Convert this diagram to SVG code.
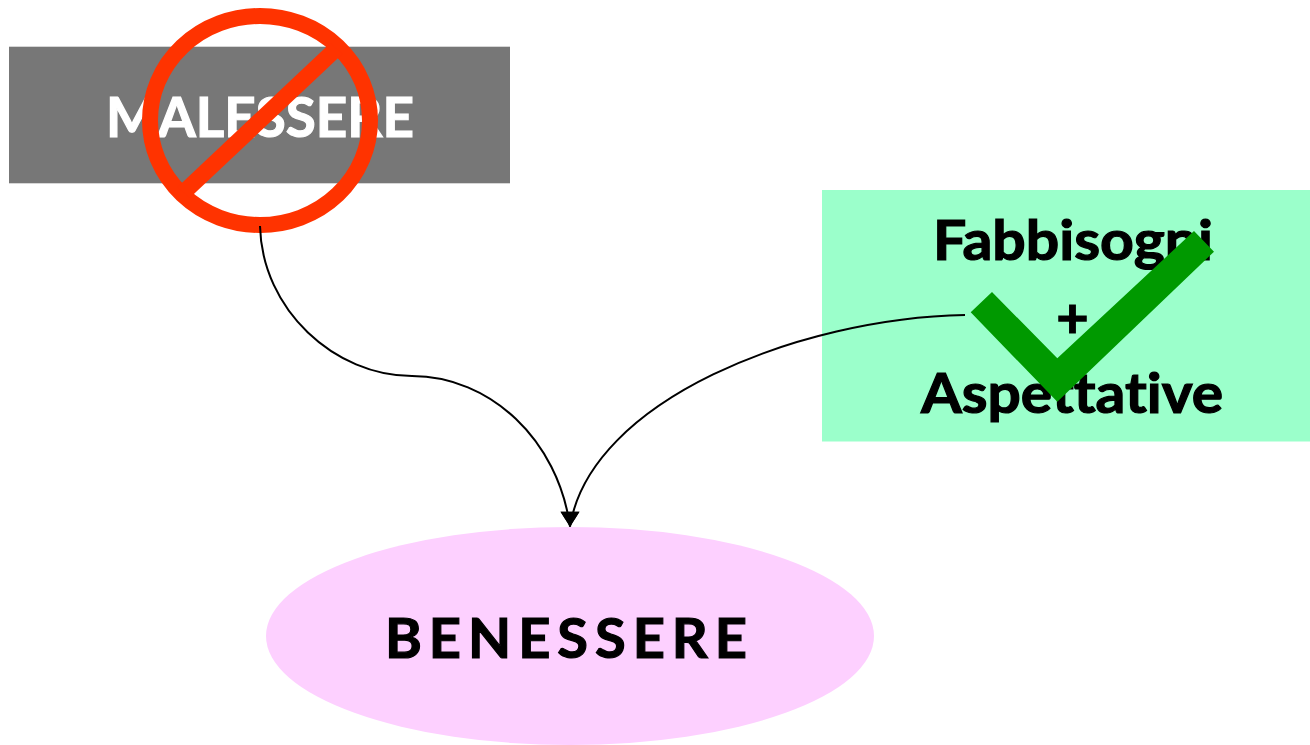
<svg xmlns="http://www.w3.org/2000/svg" width="1310" height="745" viewBox="0 0 1310 745">
<defs>
<style>
text{font-family:"Lato","Open Sans","Liberation Sans",sans-serif;font-weight:700;font-size:56px;text-anchor:middle;font-variant-ligatures:none;stroke-width:1.2px;paint-order:stroke}
.c{fill:none;stroke:#000;stroke-width:2}
</style>
<marker id="a" markerUnits="userSpaceOnUse" markerWidth="22" markerHeight="22" refX="15" refY="10" orient="90" overflow="visible"><path d="M0 0.5L15 10L0 19.5Z" fill="#000"/></marker>
</defs>
<rect width="1310" height="745" fill="#fff"/>
<g id="malessere">
<rect x="9" y="46.7" width="501" height="136.6" fill="#777"/>
<text x="260" y="136.5" fill="#fff" stroke="#fff" textLength="308" lengthAdjust="spacingAndGlyphs">MALESSERE</text>
<ellipse cx="260" cy="120.5" rx="110" ry="104.5" fill="none" stroke="#ff3300" stroke-width="16"/>
<polygon points="330.4,42.9 342.4,53.9 189.6,198.1 177.6,187.1" fill="#ff3300"/>
</g>
<g id="fabbisogni">
<rect x="822" y="190" width="488" height="251.5" fill="#9bffcb"/>
<text x="1073" y="260" fill="#000" stroke="#000" textLength="280" lengthAdjust="spacingAndGlyphs">Fabbisogni</text>
<text x="1072.5" y="338" fill="#000" stroke="#000">+</text>
<text x="1072" y="413" fill="#000" stroke="#000" textLength="302" lengthAdjust="spacingAndGlyphs">Aspettative</text>
<polygon points="992,292 970.7,312.3 1057.3,401.7 1214,251.7 1194,231 1057.3,358.3" fill="#009900"/>
</g>
<g id="benessere">
<ellipse cx="570" cy="636" rx="304" ry="109" fill="#fdd0ff"/>
<text x="566" y="658" fill="#000" stroke="#000" textLength="362" lengthAdjust="spacing">BENESSERE</text>
</g>
<g id="connectors">
<path class="c" marker-end="url(#a)" d="M260 226C262 310 335 376 412 376C490 376 558 440 570 526.7"/>
<path class="c" marker-end="url(#a)" d="M965 315C800 318 590 400 570 526.7"/>
</g>
</svg>
